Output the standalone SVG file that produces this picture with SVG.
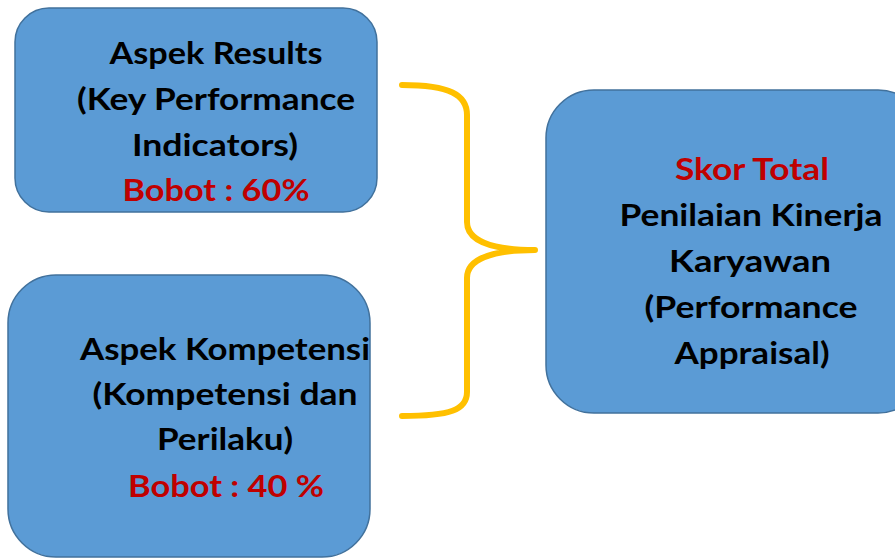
<svg xmlns="http://www.w3.org/2000/svg" width="895" height="559" viewBox="0 0 895 559">
  <style>
    .box { fill: #5b9bd5; stroke: #41719c; stroke-width: 1.5; }
    .t { font-family: Lato, "Open Sans", "Liberation Sans", sans-serif; font-weight: bold; font-size: 31px; fill: #000; text-anchor: middle; }
    .r { fill: #c00000; }
    .brace { fill: none; stroke: #ffc000; stroke-width: 6; stroke-linecap: round; stroke-linejoin: round; }
  </style>
  <rect width="895" height="559" fill="#ffffff"/>

  <g id="results">
    <rect class="box" x="15" y="8" width="362" height="204" rx="34"/>
    <text class="t" x="216" y="64" textLength="213" lengthAdjust="spacingAndGlyphs">Aspek Results</text>
    <text class="t" x="216" y="110" textLength="278" lengthAdjust="spacingAndGlyphs">(Key Performance</text>
    <text class="t" x="215" y="156" textLength="166" lengthAdjust="spacingAndGlyphs">Indicators)</text>
    <text class="t r" x="216" y="201" textLength="187" lengthAdjust="spacingAndGlyphs">Bobot : 60%</text>
  </g>

  <g id="kompetensi">
    <rect class="box" x="8" y="275" width="362" height="282" rx="48"/>
    <text class="t" x="225" y="360" textLength="290" lengthAdjust="spacingAndGlyphs">Aspek Kompetensi</text>
    <text class="t" x="225" y="405" textLength="265" lengthAdjust="spacingAndGlyphs">(Kompetensi dan</text>
    <text class="t" x="225" y="450" textLength="136" lengthAdjust="spacingAndGlyphs">Perilaku)</text>
    <text class="t r" x="226" y="497" textLength="196" lengthAdjust="spacingAndGlyphs">Bobot : 40 %</text>
  </g>

  <g id="skor">
    <rect class="box" x="546" y="90" width="380" height="323" rx="48"/>
    <text class="t r" x="752" y="180" textLength="154" lengthAdjust="spacingAndGlyphs">Skor Total</text>
    <text class="t" x="751" y="226" textLength="263" lengthAdjust="spacingAndGlyphs">Penilaian Kinerja</text>
    <text class="t" x="750" y="272" textLength="162" lengthAdjust="spacingAndGlyphs">Karyawan</text>
    <text class="t" x="751" y="318" textLength="213" lengthAdjust="spacingAndGlyphs">(Performance</text>
    <text class="t" x="752" y="364" textLength="155" lengthAdjust="spacingAndGlyphs">Appraisal)</text>
  </g>

  <g id="connectors">
    <path class="brace" d="M402,85 C450,85 467,95 467,115 L467,222 C467,240 490,250 535,250 C490,250 467,260 467,278 L467,392 C467,410 450,416 402,416"/>
  </g>
</svg>
